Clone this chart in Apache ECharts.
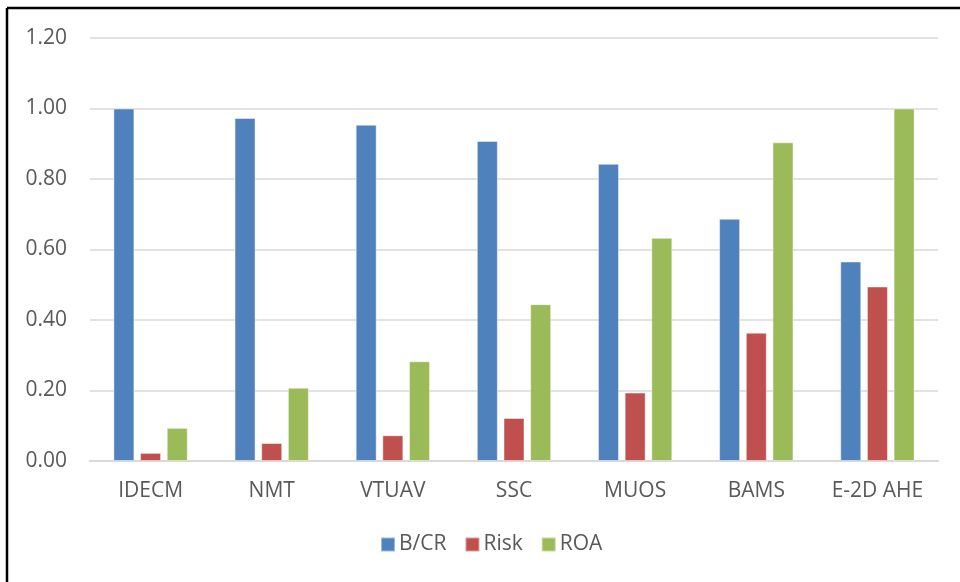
<!DOCTYPE html>
<html>
<head>
<meta charset="utf-8">
<script src="https://cdn.jsdelivr.net/npm/echarts@6/dist/echarts.min.js"></script>
<style>
  html, body { margin: 0; padding: 0; background: #fff; }
  #chart { width: 960px; height: 582px; }
</style>
</head>
<body>
<div id="chart"></div>
<script>
// Programme names along the x axis
const categories = ['IDECM', 'NMT', 'VTUAV', 'SSC', 'MUOS', 'BAMS', 'E-2D AHE'];

// Normalised scores per programme
const bcrValues  = [1.00, 0.973, 0.954, 0.908, 0.843, 0.687, 0.566];
const riskValues = [0.023, 0.051, 0.073, 0.122, 0.194, 0.364, 0.495];
const roaValues  = [0.094, 0.208, 0.283, 0.445, 0.633, 0.904, 1.00];

const seriesNames = ['B/CR', 'Risk', 'ROA'];
const seriesColors = ['#4f81bd', '#c0504d', '#9bbb59'];

const FONT = 'Open Sans';
const TEXT = '#595959';

const chart = echarts.init(document.getElementById('chart'), null, { renderer: 'canvas' });

const barSeries = [bcrValues, riskValues, roaValues].map((vals, i) => ({
  name: seriesNames[i],
  type: 'bar',
  data: vals,
  barWidth: 21,
  barGap: '27%',
  itemStyle: {
    color: seriesColors[i],
    borderColor: 'rgba(255,255,255,0.45)',
    borderWidth: 1
  }
}));

chart.setOption({
  animation: false,
  backgroundColor: '#ffffff',
  color: seriesColors,
  textStyle: { fontFamily: FONT },
  grid: { left: 90, right: 22, top: 38, bottom: 121, containLabel: false },
  legend: {
    data: seriesNames,
    bottom: 22,
    left: 375,
    icon: 'rect',
    itemWidth: 14,
    itemHeight: 14,
    itemGap: 18,
    textStyle: { fontFamily: FONT, fontSize: 21, color: TEXT, padding: [0, 0, 0, -1] }
  },
  xAxis: {
    type: 'category',
    data: categories,
    axisLine: { show: true, lineStyle: { color: '#d9d9d9', width: 2 } },
    axisTick: { show: false },
    axisLabel: { fontFamily: FONT, fontSize: 21, color: TEXT, margin: 20 }
  },
  yAxis: {
    type: 'value',
    min: 0,
    max: 1.2,
    interval: 0.2,
    axisLine: { show: false },
    axisTick: { show: false },
    splitLine: { lineStyle: { color: '#d9d9d9', width: 1.5 } },
    axisLabel: {
      fontFamily: FONT, fontSize: 21, color: TEXT, margin: 23,
      formatter: v => v.toFixed(2)
    }
  },
  graphic: [
    // frame lines along the top and left edge
    { type: 'line', shape: { x1: 7, y1: 8, x2: 960, y2: 8 }, style: { stroke: '#000', lineWidth: 2.5 } },
    { type: 'line', shape: { x1: 7, y1: 8, x2: 7, y2: 582 }, style: { stroke: '#000', lineWidth: 2.5 } }
  ],
  series: barSeries
});
</script>
</body>
</html>
